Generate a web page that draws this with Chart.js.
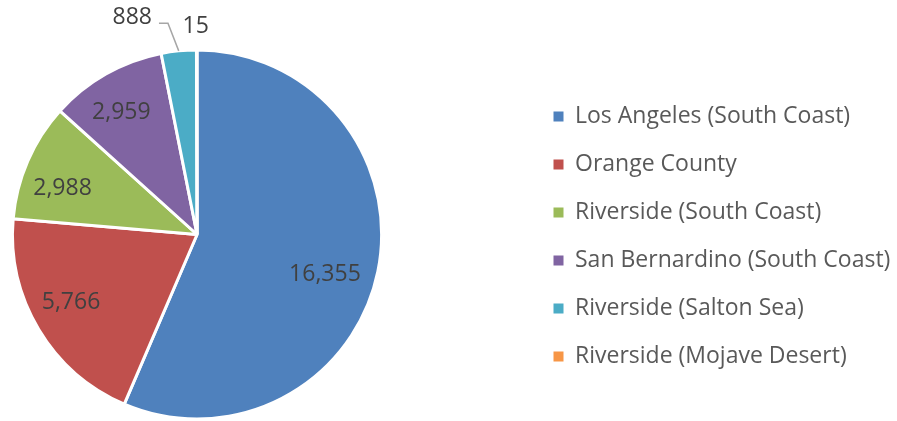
<!DOCTYPE html>
<html>
<head>
<meta charset="utf-8">
<script src="https://cdn.jsdelivr.net/npm/chart.js@4.4.0/dist/chart.umd.min.js"></script>
<style>
  html, body { margin: 0; padding: 0; background: #ffffff; }
  #wrap { width: 897px; height: 421px; }
</style>
</head>
<body>
<div id="wrap"><canvas id="basin-share" width="897" height="421"></canvas></div>
<script>
// ------------- Pie: counts by county / air basin ------------- //

var regions = ["Los Angeles (South Coast)", "Orange County", "Riverside (South Coast)",
               "San Bernardino (South Coast)", "Riverside (Salton Sea)", "Riverside (Mojave Desert)"]

var counts = [16355, 5766, 2988, 2959, 888, 15]

var sliceColors = ["#4F81BD", "#C0504D", "#9BBB59", "#8064A2", "#4BACC6", "#F79646"]

var FONT = "'Open Sans', 'DejaVu Sans', sans-serif"

// value labels: distance out along the slice middle (share of radius), then a small nudge in px
var labelReach = [0.724, 0.771, 0.771, 0.787, 1.15, 1.138]
var labelNudge = [[-3, 13], [-4, -5], [-4, 11], [-4, 4], [0, 1], [-1, 2]]

var valueLabels = {
    id: "valueLabels",
    afterDatasetsDraw: function (chart) {
        var ctx = chart.ctx
        var arcs = chart.getDatasetMeta(0).data
        ctx.save()
        ctx.font = "23px " + FONT
        ctx.fillStyle = "#404040"
        ctx.textBaseline = "middle"
        arcs.forEach(function (arc, i) {
            var p = arc.getProps(["x", "y", "startAngle", "endAngle", "outerRadius"], true)
            var mid = (p.startAngle + p.endAngle) / 2
            var r = p.outerRadius * labelReach[i]
            var lx = p.x + Math.cos(mid) * r
            var ly = p.y + Math.sin(mid) * r
            var text = counts[i].toLocaleString("en-US")
            if (i === 4) {
                // small slice: leader line out to the label
                var ex = p.x + Math.cos(mid) * p.outerRadius
                var ey = p.y + Math.sin(mid) * p.outerRadius
                ctx.strokeStyle = "#A6A6A6"
                ctx.lineWidth = 1.5
                ctx.beginPath()
                ctx.moveTo(ex, ey)
                ctx.lineTo(lx - 8, ly)
                ctx.lineTo(lx - 17, ly)
                ctx.stroke()
                ctx.textAlign = "right"
                ctx.fillText(text, lx - 24 + labelNudge[i][0], ly - 7 + labelNudge[i][1])
            } else {
                ctx.textAlign = "center"
                ctx.fillText(text, lx + labelNudge[i][0], ly + labelNudge[i][1])
            }
        })
        ctx.restore()
    }
}

// keep the legend column out at the right edge, away from the pie
var legendSpot = {
    id: "legendSpot",
    afterLayout: function (chart) {
        var lg = chart.legend
        var shift = 528.5 - lg.left
        lg.left += shift
        lg.right += shift
        lg.top += 2
        lg.bottom += 2
    }
}

var pieDefaults = Chart.overrides.pie.plugins.legend.labels.generateLabels

var basinChart = new Chart("basin-share", {
    type: "pie",
    data: {
        labels: regions,
        datasets: [{
            data: counts,
            backgroundColor: sliceColors,
            borderColor: "#ffffff",
            borderWidth: 3
        }]
    },
    options: {
        responsive: false,
        animation: false,
        layout: { padding: { left: 11, top: 48, bottom: 0, right: 142 } },
        plugins: {
            tooltip: { enabled: false },
            legend: {
                position: "right",
                labels: {
                    boxWidth: 10,
                    boxHeight: 10,
                    padding: 25,
                    color: "#595959",
                    font: { family: FONT, size: 23 },
                    generateLabels: function (chart) {
                        return pieDefaults(chart).map(function (item) {
                            item.lineWidth = 0
                            return item
                        })
                    }
                }
            }
        }
    },
    plugins: [valueLabels, legendSpot]
});
</script>
</body>
</html>
